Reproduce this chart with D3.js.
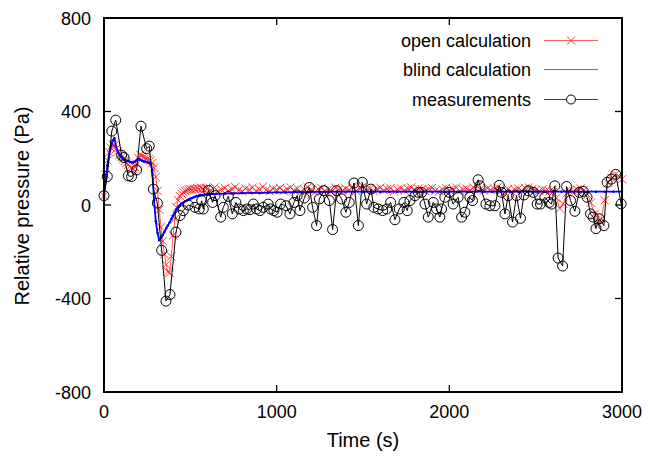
<!DOCTYPE html>
<html><head><meta charset="utf-8">
<script src="https://cdn.jsdelivr.net/npm/d3@7"></script>
<style>body{margin:0;background:#fff}svg{display:block}text{font-family:"Liberation Sans",Arial,sans-serif;fill:#000}</style>
</head><body><svg id="c" width="648" height="456"></svg>
<script>
const xTicks = [0, 1000, 2000, 3000];
const yTicks = [-800, -400, 0, 400, 800];
const seriesNames = ["open calculation", "blind calculation", "measurements"];

// open calculation [time, pressure]
const openCalc = [[0,40],[10,130],[20,190],[30,225],[40,245],[50,258],[60,255],[70,240],[80,228],[90,215],[100,205],[110,198],[120,188],[130,180],[140,172],[150,165],[160,160],[170,155],[180,162],[190,175],[200,200],[210,215],[220,210],[230,205],[240,200],[250,198],[260,195],[270,190],[280,180],[290,160],[300,120],[310,60],[320,-20],[330,-95],[340,-155],[350,-210],[360,-255],[370,-285],[380,-290],[390,-220],[400,-130],[410,-60],[420,-10],[430,20],[440,38],[450,48],[460,55],[470,60],[480,63],[490,66],[500,68],[510,66],[520,70],[530,67],[540,72],[550,69],[560,74],[570,70],[580,66],[590,72],
[600,70],[620,62],[640,75],[660,58],[680,66],[700,72],[720,60],[740,68],[760,77],[780,63],[800,58],[820,70],[840,66],[860,74],[880,61],[900,67],[920,78],[940,64],[960,59],[980,70],[1000,66],[1020,73],[1040,60],[1060,68],[1080,75],[1100,62],[1120,70],[1140,57],[1160,66],[1180,76],[1200,64],[1220,55],[1240,68],[1260,72],[1280,61],[1300,67],[1320,58],[1340,74],[1360,66],[1380,62],[1400,70],[1420,64],[1440,78],[1460,60],[1480,72],[1500,80],[1520,65],[1540,70],[1560,61],[1580,67],[1600,74],[1620,63],[1640,68],[1660,72],[1680,58],[1700,66],[1720,71],[1740,63],[1760,69],[1780,75],[1800,64],[1820,70],[1840,66],[1860,60],[1880,68],[1900,73],[1920,62],[1940,58],[1960,67],[1980,72],[2000,64],[2020,69],[2040,75],[2060,61],[2080,66],[2100,70],[2120,63],[2140,74],[2160,80],[2180,68],[2200,62],[2220,71],[2240,65],[2260,69],[2280,76],[2300,60],[2320,55],[2340,68],[2360,58],[2380,66],[2400,70],[2420,60],[2440,72],[2460,75],[2480,68],[2500,64],[2520,60],[2540,66],[2560,62],[2580,58],[2600,55],[2620,30],[2640,-15],[2660,5],[2680,50],[2700,62],[2720,58],[2740,66],[2760,70],[2780,64],[2800,45],[2820,10],[2840,-40],[2860,-75],[2880,-60],[2900,20],[2920,95],[2940,115],[2960,130],[2980,125],[3000,110]];

// blind calculation [time, pressure]
const blindCalc = [[0,40],[10,110],[20,170],[30,215],[40,250],[50,275],[60,285],[70,250],[80,228],[90,215],[100,205],[110,198],[120,193],[130,190],[140,188],[150,185],[160,183],[170,182],[180,186],[190,192],[200,196],[210,194],[220,190],[230,187],[240,185],[250,183],[260,180],[270,176],[280,150],[290,20],[300,-70],[310,-120],[320,-150],[330,-140],[340,-128],[350,-115],[360,-100],[370,-88],[380,-75],[390,-60],[400,-46],[410,-32],[420,-18],[430,-8],[440,0],[450,6],[460,11],[470,16],[480,19],[490,23],[500,27],[510,30],[520,33],[530,36],[540,38],[550,40],[560,42],[570,43],[580,44],[590,45],
[600,46],[650,48],[700,49],[750,50],[800,51],[850,52],[900,52],[950,53],[1000,54],[1050,54],[1100,55],[1150,55],[1200,56],[1250,56],[1300,56],[1350,57],[1400,57],[1450,57],[1500,57],[1550,57],[1600,57],[1650,57],[1700,57],[1750,57],[1800,57],[1850,57],[1900,57],[1950,57],[2000,57],[2050,57],[2100,57],[2150,57],[2200,57],[2250,57],[2300,57],[2350,57],[2400,57],[2450,57],[2500,57],[2550,57],[2600,57],[2650,57],[2700,57],[2750,57],[2800,57],[2850,57],[2900,57],[2950,57],[3000,57]];

// measurements [time, pressure]
const measured = [[0,40],[19,122],[45,316],[68,363],[102,213],[116,203],[141,125],[160,122],[189,150],[214,337],[247,241],[262,252],[286,68],[309,8],[334,-194],[359,-411],[382,-383],[417,-116],[440,-45],[459,-24],[488,0],[527,-10],[552,-17],[566,18],[575,-17],[605,62],[629,11],[643,40],[676,-52],[691,-10],[720,37],[743,-38],[764,11],[784,-17],[807,-24],[826,-17],[845,-20],[865,4],[884,-17],[903,-24],[922,-10],[951,4],[965,-17],[984,-24],[1003,-31],[1023,4],[1054,-3],[1077,-38],[1100,11],[1119,40],[1135,-24],[1160,30],[1189,75],[1208,-10],[1231,-88],[1247,26],[1274,61],[1305,19],[1324,-105],[1347,61],[1376,26],[1401,-31],[1420,11],[1448,94],[1473,-88],[1496,97],[1521,4],[1546,68],[1563,-10],[1588,-17],[1614,-24],[1637,-17],[1660,11],[1685,-63],[1710,-17],[1737,11],[1756,-24],[1772,19],[1801,40],[1820,54],[1840,54],[1859,4],[1878,-52],[1907,11],[1926,-17],[1945,-52],[1955,-17],[1974,33],[1999,54],[2022,4],[2051,33],[2071,-52],[2090,-31],[2119,33],[2134,19],[2167,108],[2177,82],[2212,4],[2235,-3],[2264,-3],[2289,84],[2302,54],[2322,-38],[2341,40],[2366,-73],[2389,40],[2412,-57],[2432,43],[2457,61],[2486,54],[2509,4],[2528,4],[2553,33],[2578,11],[2592,4],[2611,82],[2630,-227],[2656,-261],[2679,79],[2702,19],[2727,-27],[2752,54],[2775,58],[2798,33],[2818,-38],[2833,-52],[2849,-101],[2868,-59],[2895,-88],[2914,97],[2939,111],[2964,131],[2995,5]];

const svg = d3.select("#c");
const L = 104, R = 622, T = 18, B = 392;
const x = d3.scaleLinear().domain([0, 3000]).range([L, R]);
const y = d3.scaleLinear().domain([-800, 800]).range([B, T]);
const line = d3.line().x(d => x(d[0])).y(d => y(d[1]));

// open calculation
svg.append("path").datum(openCalc).attr("d", line).attr("fill", "none").attr("stroke", "#ff3030").attr("stroke-width", 0.8);
const cross = (g, cx, cy, s, col) => {
  g.append("path").attr("d", `M${cx-s},${cy-s}L${cx+s},${cy+s}M${cx-s},${cy+s}L${cx+s},${cy-s}`)
    .attr("stroke", col).attr("stroke-width", 1).attr("fill", "none");
};
const gOpen = svg.append("g").attr("stroke-opacity", 0.85);
openCalc.forEach(d => cross(gOpen, x(d[0]), y(d[1]), 4.2, "#ff2020"));

// blind calculation
svg.append("path").datum(blindCalc).attr("d", line).attr("fill", "none").attr("stroke", "#0000ff").attr("stroke-width", 1.8);
svg.append("g").selectAll("circle").data(blindCalc).join("circle")
  .attr("cx", d => x(d[0])).attr("cy", d => y(d[1])).attr("r", 1.3).attr("fill", "#0000ff");

// measurements
svg.append("path").datum(measured).attr("d", line).attr("fill", "none").attr("stroke", "#000").attr("stroke-width", 1);
svg.append("g").selectAll("circle").data(measured).join("circle")
  .attr("cx", d => x(d[0])).attr("cy", d => y(d[1])).attr("r", 5)
  .attr("fill", "none").attr("stroke", "#000").attr("stroke-width", 1);

// frame & ticks
const ax = svg.append("g");
ax.append("rect").attr("x", L).attr("y", T).attr("width", R - L).attr("height", B - T)
  .attr("fill", "none").attr("stroke", "#000").attr("stroke-width", 2);
xTicks.forEach(t => {
  ax.append("line").attr("x1", x(t)).attr("x2", x(t)).attr("y1", B).attr("y2", B - 7).attr("stroke", "#000").attr("stroke-width", 1.3);
  ax.append("line").attr("x1", x(t)).attr("x2", x(t)).attr("y1", T).attr("y2", T + 7).attr("stroke", "#000").attr("stroke-width", 1.3);
  ax.append("text").attr("x", x(t)).attr("y", 418).attr("text-anchor", "middle").attr("font-size", 18).text(t);
});
yTicks.forEach(t => {
  ax.append("line").attr("x1", L).attr("x2", L + 7).attr("y1", y(t)).attr("y2", y(t)).attr("stroke", "#000").attr("stroke-width", 1.3);
  ax.append("line").attr("x1", R).attr("x2", R - 7).attr("y1", y(t)).attr("y2", y(t)).attr("stroke", "#000").attr("stroke-width", 1.3);
  ax.append("text").attr("x", 91).attr("y", y(t) + 6.5).attr("text-anchor", "end").attr("font-size", 18).text(t);
});
svg.append("text").attr("x", 363).attr("y", 447).attr("text-anchor", "middle").attr("font-size", 20).text("Time (s)");
svg.append("text").attr("transform", "translate(29,206) rotate(-90)").attr("text-anchor", "middle").attr("font-size", 20).text("Relative pressure (Pa)");

// legend
const ly = [40.5, 69.5, 99.5];
const lcol = ["#ff6060", "#6060ff", "#404040"];
const lg = svg.append("g");
seriesNames.forEach((n, i) => {
  lg.append("text").attr("x", 531).attr("y", ly[i] + 6).attr("text-anchor", "end").attr("font-size", 18).text(n);
  lg.append("line").attr("x1", 544).attr("x2", 598).attr("y1", ly[i]).attr("y2", ly[i]).attr("stroke", lcol[i]).attr("stroke-width", 1);
});
cross(lg, 571, ly[0], 4, "#ff3030");
lg.append("circle").attr("cx", 571).attr("cy", ly[2]).attr("r", 4.5).attr("fill", "#fff").attr("stroke", "#000").attr("stroke-width", 1);
</script></body></html>
